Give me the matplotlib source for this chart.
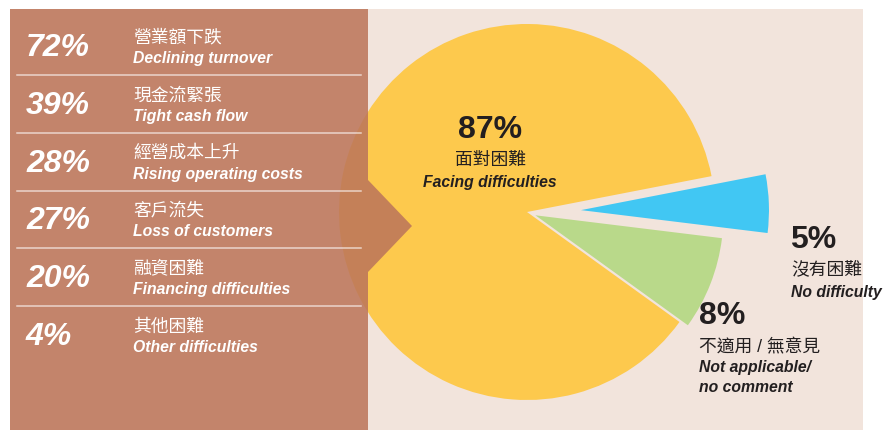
import matplotlib.pyplot as plt
from matplotlib.patches import Rectangle, Polygon

# survey results
pie_values = [87, 8, 5]
pie_pct = ['87%', '8%', '5%']
pie_zh = ['面對困難', '不適用 / 無意見', '沒有困難']
pie_en = ['Facing difficulties', 'Not applicable/\nno comment', 'No difficulty']
pie_colors = ['#FDC94D', '#B9D98A', '#41C7F3']

# breakdown of difficulties
diff_pct = [72, 39, 28, 27, 20, 4]
diff_zh = ['營業額下跌', '現金流緊張', '經營成本上升', '客戶流失', '融資困難', '其他困難']
diff_en = ['Declining turnover', 'Tight cash flow', 'Rising operating costs',
           'Loss of customers', 'Financing difficulties', 'Other difficulties']

W, H = 892, 430
latin = ['Liberation Sans', 'DejaVu Sans']
cjk = ['Liberation Sans', 'Noto Sans CJK TC', 'DejaVu Sans']
dark = '#231F20'

fig = plt.figure(figsize=(W / 100, H / 100), dpi=100)
fig.patch.set_facecolor('white')
ax = fig.add_axes([0, 0, 1, 1])

# beige panel
ax.add_patch(Rectangle((10, 0), 853, 421, facecolor='#F2E4DC', edgecolor='none', zorder=0))

# pie (y axis points up, so image y -> H - y); explode is in pixels here
cx, cy, r = 527, H - 212, 188
wedges, _ = ax.pie(pie_values, colors=pie_colors, startangle=11, counterclock=True,
                   explode=[0, 9, 54], radius=r, center=(cx, cy),
                   wedgeprops=dict(linewidth=0), frame=True)
for w in wedges:
    w.set_zorder(1)

# brown list panel with pointer, drawn over the pie
ax.add_patch(Polygon([(10, 0), (368, 0), (368, H - 272), (412, H - 226),
                      (368, H - 180), (368, 421), (10, 421)],
                     closed=True, facecolor='#BC765A', alpha=0.87,
                     edgecolor='none', zorder=2))

# rows of the list
row0, step = 48, 57.8
for i in range(len(diff_pct)):
    y = row0 + i * step
    ax.text(26, H - y, f'{diff_pct[i]}%', color='white', fontsize=23, fontweight='bold',
            fontstyle='italic', family=latin, va='center', ha='left', zorder=3)
    ax.text(133, H - (y - 10), diff_zh[i], color='white', fontsize=12.8, family=cjk,
            va='center', ha='left', zorder=3)
    ax.text(133, H - (y + 10.5), diff_en[i], color='white', fontsize=11.3, fontweight='bold',
            fontstyle='italic', family=latin, va='center', ha='left', zorder=3)
    if i < len(diff_pct) - 1:
        ly = H - (y + 27)
        ax.plot([17, 361], [ly, ly], color='white', alpha=0.65, lw=1.1, zorder=3)

# pie labels
ax.text(490, H - 130, pie_pct[0], color=dark, fontsize=23, fontweight='bold', family=latin,
        ha='center', va='center', zorder=4)
ax.text(490, H - 161, pie_zh[0], color=dark, fontsize=12.8, family=cjk,
        ha='center', va='center', zorder=4)
ax.text(490, H - 183, pie_en[0], color=dark, fontsize=11.3, fontweight='bold',
        fontstyle='italic', family=latin, ha='center', va='center', zorder=4)

ax.text(790, H - 240, pie_pct[2], color=dark, fontsize=23, fontweight='bold', family=latin,
        ha='left', va='center', zorder=4)
ax.text(791, H - 271, pie_zh[2], color=dark, fontsize=12.8, family=cjk,
        ha='left', va='center', zorder=4)
ax.text(791, H - 293, pie_en[2], color=dark, fontsize=11.3, fontweight='bold',
        fontstyle='italic', family=latin, ha='left', va='center', zorder=4)

ax.text(699, H - 316, pie_pct[1], color=dark, fontsize=23, fontweight='bold', family=latin,
        ha='left', va='center', zorder=4)
ax.text(699, H - 348, pie_zh[1], color=dark, fontsize=12.8, family=cjk,
        ha='left', va='center', zorder=4)
ax.text(699, H - 360, pie_en[1], color=dark, fontsize=11.3, fontweight='bold',
        fontstyle='italic', family=latin, ha='left', va='top', linespacing=1.45, zorder=4)

ax.set_xlim(0, W)
ax.set_ylim(0, H)
ax.set_aspect('auto')
ax.axis('off')

fig.savefig('out.png', dpi=100, facecolor='white')
